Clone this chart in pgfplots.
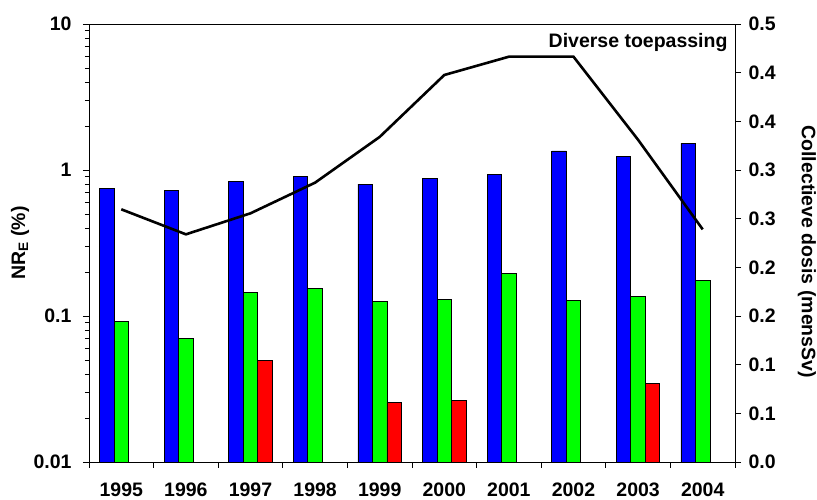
\documentclass[border=0pt]{standalone}
\usepackage{pgfplots}
\pgfplotsset{compat=1.18}
\usepackage{fontspec}
\setmainfont{Liberation Sans}
\definecolor{barblue}{RGB}{0,0,255}
\definecolor{bargreen}{RGB}{0,255,0}
\definecolor{barred}{RGB}{255,0,0}
\begin{document}
\begin{tikzpicture}
\useasboundingbox (-89pt,-38pt) rectangle (728pt,462pt);
\pgfplotsset{
  every axis/.append style={
    scale only axis, width=646pt, height=438pt,
    at={(0pt,0pt)}, anchor=south west,
    xmin=-0.5, xmax=9.5,
    tick align=outside, major tick length=6pt, minor tick length=4pt,
    font=\fontsize{19.5}{23}\selectfont\bfseries,
    tick label style={font=\fontsize{19.5}{23}\selectfont\bfseries},
    axis line style={black, line width=0.8pt},
    every tick/.style={black, line width=0.8pt},
  }
}
\begin{axis}[
  ymode=log, ymin=0.01, ymax=10,
  ytick={0.01,0.1,1,10}, yticklabels={0.01,0.1,1,10},
  minor ytick={0.02,0.03,0.04,0.05,0.06,0.07,0.08,0.09,0.2,0.3,0.4,0.5,0.6,0.7,0.8,0.9,2,3,4,5,6,7,8,9},
  log origin=infty,
  ybar=0pt, bar width=14.5pt,
  xtick={-0.5,0.5,1.5,2.5,3.5,4.5,5.5,6.5,7.5,8.5,9.5},
  x tick label as interval,
  xticklabels={1995,1996,1997,1998,1999,2000,2001,2002,2003,2004},
  xtick pos=bottom, ytick pos=left,
  x tick label style={yshift=-11pt},
  y tick label style={xshift=-8pt},
  ylabel={NR\textsubscript{E} (\%)},
  ylabel style={at={(axis description cs:-0.1068,0.5)}, anchor=center},
]
\addplot[fill=barblue, draw=black, line width=0.8pt] coordinates {
 (0,0.75) (1,0.72) (2,0.83) (3,0.90) (4,0.80) (5,0.88) (6,0.93) (7,1.35) (8,1.23) (9,1.52)};
\addplot[fill=bargreen, draw=black, line width=0.8pt] coordinates {
 (0,0.0914) (1,0.0703) (2,0.146) (3,0.154) (4,0.125) (5,0.129) (6,0.196) (7,0.127) (8,0.136) (9,0.174)};
\addplot[fill=barred, draw=black, line width=0.8pt] coordinates {
 (2,0.0494) (4,0.0256) (5,0.0263) (8,0.0346)};
\end{axis}
\begin{axis}[
  ymin=0, ymax=0.45,
  axis x line=none, axis y line*=right,
  ytick={0,0.05,0.1,0.15,0.2,0.25,0.3,0.35,0.4,0.45},
  yticklabels={0.0,0.1,0.1,0.2,0.2,0.3,0.3,0.4,0.4,0.5},
  y tick label style={xshift=4pt},
  ylabel={Collectieve dosis (mensSv)},
  ylabel style={at={(axis description cs:1.1115,0.48)}, anchor=center, rotate=180},
]
\addplot[black, line width=2.6pt, mark=none] coordinates {
 (0,0.2596) (1,0.2339) (2,0.2555) (3,0.287) (4,0.334) (5,0.3976) (6,0.4164) (7,0.4164) (8,0.331) (9,0.239)};
\node[anchor=base, font=\fontsize{19.5}{23}\selectfont\bfseries] at (axis cs:8.0,0.4255) {Diverse toepassing};
\end{axis}
\end{tikzpicture}
\end{document}
